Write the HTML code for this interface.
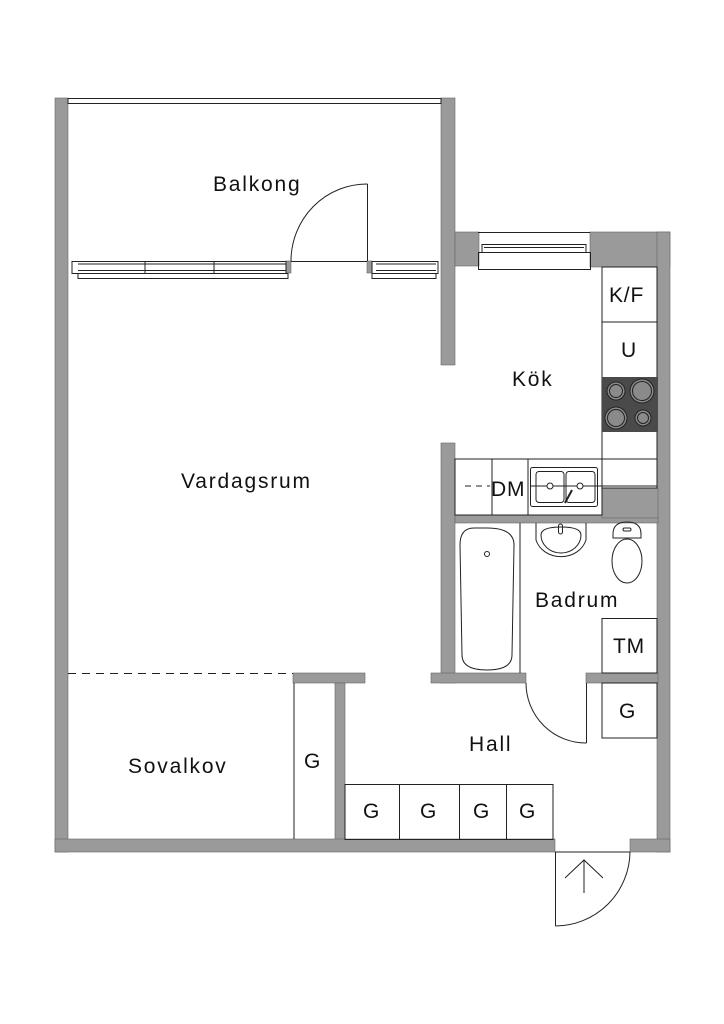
<!DOCTYPE html>
<html><head><meta charset="utf-8"><style>
html,body{margin:0;padding:0;background:#fff;}
svg{display:block;}
text{font-family:"Liberation Sans",sans-serif;fill:#111;}
</style></head><body>
<svg width="724" height="1024" viewBox="0 0 724 1024" xmlns="http://www.w3.org/2000/svg">
<g fill="#9a9a9a" stroke="#666" stroke-width="0.6">
  <rect x="55" y="98" width="13" height="754"/>
  <rect x="441" y="98" width="14" height="267"/>
  <rect x="455" y="232" width="24" height="34"/>
  <rect x="590" y="232" width="80" height="35"/>
  <rect x="657" y="232" width="13" height="620"/>
  <rect x="441" y="443" width="14" height="240"/>
  <rect x="455" y="515" width="203" height="8"/>
  <rect x="602" y="488" width="56" height="30"/>
  <rect x="431" y="673" width="95" height="10"/>
  <rect x="586" y="673" width="72" height="10"/>
  <rect x="293" y="673" width="72" height="10"/>
  <rect x="335" y="683" width="10" height="157"/>
  <rect x="55" y="839" width="500" height="13"/>
  <rect x="630" y="839" width="40" height="13"/>
  <rect x="286" y="261" width="5" height="12"/>
  <rect x="367" y="261" width="5" height="12"/>
</g>
<g fill="none" stroke="#222" stroke-width="1">
  <rect x="68" y="98.5" width="373" height="5"/>
  <rect x="72" y="261.5" width="214" height="12"/>
  <line x1="78" y1="264" x2="286" y2="264"/><line x1="78" y1="270.5" x2="286" y2="270.5"/>
  <rect x="78" y="273.5" width="210" height="5"/>
  <line x1="145" y1="262" x2="145" y2="273"/><line x1="214" y1="262" x2="214" y2="273"/>
  <rect x="372" y="261.5" width="66" height="12"/>
  <line x1="376" y1="264" x2="436" y2="264"/><line x1="376" y1="270.5" x2="436" y2="270.5"/>
  <rect x="372" y="273.5" width="64" height="5"/>
  <line x1="291" y1="261.5" x2="367" y2="261.5"/>
  <line x1="367.5" y1="184" x2="367.5" y2="261"/>
  <path d="M291 261 A76 77 0 0 1 367.5 184"/>
  <line x1="478" y1="232.5" x2="590" y2="232.5"/>
  <rect x="482" y="244.5" width="104" height="8"/>
  <line x1="484" y1="247.5" x2="584" y2="247.5"/>
  <rect x="478.5" y="252.5" width="112" height="17"/>
  <rect x="602" y="267" width="55" height="221"/>
  <line x1="602" y1="322" x2="657" y2="322"/>
  <line x1="602" y1="459" x2="657" y2="459"/>
  <rect x="455" y="459" width="147" height="56"/>
  <line x1="492" y1="459" x2="492" y2="515"/>
  <line x1="528" y1="459" x2="528" y2="515"/>
  <line x1="465" y1="486" x2="490" y2="486" stroke-dasharray="6,5"/>
  <rect x="530.5" y="467.5" width="67" height="39" rx="2"/>
  <rect x="536" y="471.5" width="28" height="31" rx="3"/>
  <rect x="566" y="471.5" width="29" height="31" rx="3"/>
  <line x1="530" y1="486" x2="657" y2="486"/>
  <circle cx="550" cy="486" r="3" fill="#fff"/>
  <circle cx="580" cy="486" r="3" fill="#fff"/>
  <line x1="565" y1="503" x2="572" y2="490" stroke-width="2"/>
  <line x1="520" y1="523" x2="520" y2="673"/>
  <path d="M474 528 Q460 528 460 545 L462 655 Q462 670 487 670 Q512 670 512 655 L514 545 Q514 528 487 528 Z"/>
  <circle cx="487" cy="554" r="2.5"/>
  <path d="M536 523 L536 540 A26 23 0 0 0 586 540 L586 523"/>
  <path d="M541 535 A20 18 0 0 0 581 535 Q581 527 561 527 Q541 527 541 535"/>
  <rect x="558.5" y="524" width="4" height="10" rx="2"/>
  <path d="M613 534 Q613 522 627 522 Q641 522 641 534 L641 538 L613 538 Z"/>
  <ellipse cx="627" cy="561" rx="15" ry="22"/>
  <rect x="623" y="528" width="8" height="3" rx="1.5"/>
  <rect x="602" y="618.5" width="55" height="54.5"/>
  <line x1="586.5" y1="683" x2="586.5" y2="743"/>
  <path d="M526 683 A60 60 0 0 0 586.5 743"/>
  <rect x="602" y="683" width="55" height="55"/>
  <rect x="345" y="784.5" width="208" height="55"/>
  <line x1="399.5" y1="784" x2="399.5" y2="839"/>
  <line x1="459.5" y1="784" x2="459.5" y2="839"/>
  <line x1="506.5" y1="784" x2="506.5" y2="839"/>
  <line x1="294" y1="683" x2="294" y2="839"/>
  <line x1="68" y1="673.5" x2="293" y2="673.5" stroke-dasharray="8,6"/>
  <line x1="555" y1="852" x2="630" y2="852"/>
  <line x1="555.5" y1="852" x2="555.5" y2="926"/>
  <path d="M630 852 A75 75 0 0 1 555.5 926"/>
  <line x1="584" y1="893" x2="584" y2="860"/>
  <polyline points="565,878 584,860 603,878"/>
</g>
<rect x="602" y="377" width="56" height="55" fill="#4a4a4a"/>
<g fill="#8a8a8a" stroke="#222" stroke-width="1">
  <circle cx="616" cy="391" r="9"/><circle cx="616" cy="391" r="6.5"/>
  <circle cx="642" cy="391" r="12"/><circle cx="642" cy="391" r="9.5"/>
  <circle cx="616" cy="418" r="11"/><circle cx="616" cy="418" r="8.5"/>
  <circle cx="643" cy="418" r="8"/><circle cx="643" cy="418" r="5.5"/>
</g>
<g font-size="21" letter-spacing="1.8">
  <text x="213" y="191">Balkong</text>
  <text x="181" y="488">Vardagsrum</text>
  <text x="512" y="386">Kök</text>
  <text x="535" y="607">Badrum</text>
  <text x="469" y="751">Hall</text>
  <text x="128" y="773">Sovalkov</text>
</g>
<g font-size="21" letter-spacing="0.8">
  <text x="609" y="302">K/F</text>
  <text x="621" y="357">U</text>
  <text x="491" y="496">DM</text>
  <text x="613" y="653">TM</text>
  <text x="619" y="718">G</text>
  <text x="304" y="768">G</text>
  <text x="363" y="818">G</text>
  <text x="420" y="818">G</text>
  <text x="473" y="818">G</text>
  <text x="519" y="818">G</text>
</g>
</svg>
</body></html>
